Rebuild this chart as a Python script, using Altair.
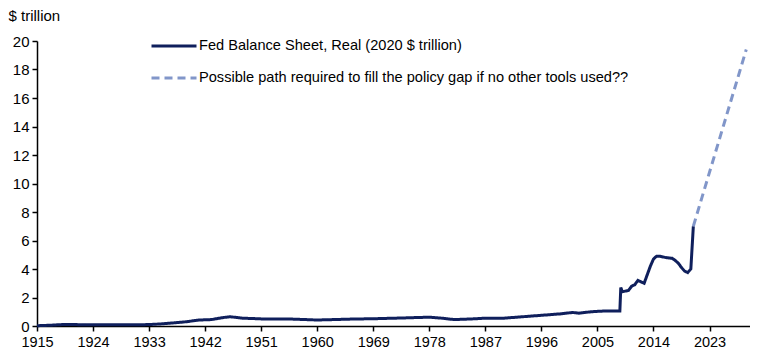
import altair as alt
import pandas as pd

# Fed balance sheet, real (2020 $ trillion)
fed_years = [1915, 1917, 1919, 1921, 1924, 1927, 1930, 1933, 1935, 1937, 1939, 1941,
             1943, 1945, 1946, 1948, 1951, 1955, 1960, 1965, 1970, 1975, 1978, 1980,
             1982, 1985, 1987, 1990, 1993, 1996, 1999, 2001, 2002, 2004, 2006, 2008.6,
             2008.75, 2009, 2010, 2010.5, 2011, 2011.5, 2012, 2012.5, 2013, 2013.5,
             2014, 2014.5, 2015, 2016, 2017, 2017.5, 2018, 2018.5, 2019, 2019.5,
             2020.0, 2020.4]
fed_values = [0.02, 0.05, 0.1, 0.1, 0.08, 0.08, 0.08, 0.1, 0.15, 0.22, 0.3, 0.42,
              0.45, 0.6, 0.65, 0.55, 0.5, 0.5, 0.42, 0.48, 0.52, 0.58, 0.62, 0.55,
              0.45, 0.5, 0.55, 0.55, 0.65, 0.75, 0.85, 0.95, 0.9, 1.0, 1.05, 1.05,
              2.7, 2.4, 2.5, 2.8, 2.9, 3.2, 3.1, 3.0, 3.6, 4.2,
              4.7, 4.9, 4.9, 4.8, 4.75, 4.6, 4.4, 4.1, 3.85, 3.75,
              4.0, 7.0]

# Possible path required to fill the policy gap
path_years = [2020.4, 2028.9]
path_values = [7.0, 19.4]

series_names = ["Fed Balance Sheet, Real (2020 $ trillion)",
                "Possible path required to fill the policy gap if no other tools used??"]
x_ticks = [1915, 1924, 1933, 1942, 1951, 1960, 1969, 1978, 1987, 1996, 2005, 2014, 2023]
y_ticks = list(range(0, 21, 2))

df = pd.concat([
    pd.DataFrame({"year": fed_years, "value": fed_values, "series": series_names[0], "order": range(len(fed_years))}),
    pd.DataFrame({"year": path_years, "value": path_values, "series": series_names[1], "order": range(len(path_years))}),
])

legend_cfg = dict(title=None, orient="none", legendX=113, legendY=-19,
                  symbolType="stroke", symbolSize=2025, symbolStrokeWidth=3,
                  labelFontSize=14.6, labelFont="Liberation Sans", labelColor="black",
                  rowPadding=1, labelOffset=1, labelLimit=0)

axis_common = dict(grid=False, domainColor="black", domainWidth=1.5, tickColor="black",
                   tickWidth=1.5, tickSize=5, labelColor="black", labelFont="Liberation Sans")

chart = alt.Chart(df).mark_line(strokeWidth=3).encode(
    x=alt.X("year:Q", scale=alt.Scale(domain=[1915, 2029.5], nice=False, zero=False),
            axis=alt.Axis(values=x_ticks, format="d", title=None, labelPadding=4,
                          labelFontSize=14.5, labelFlush=False, **axis_common)),
    y=alt.Y("value:Q", scale=alt.Scale(domain=[0, 20], nice=False),
            axis=alt.Axis(values=y_ticks, title="$ trillion", titleAngle=0, titleAlign="left",
                          titleBaseline="alphabetic", titleX=-29, titleY=-21, titleFontSize=15,
                          titleFontWeight="normal", titleFont="Liberation Sans", titleColor="black",
                          labelPadding=3, labelFontSize=15, **axis_common)),
    color=alt.Color("series:N", scale=alt.Scale(domain=series_names, range=["#0f1f5c", "#8196c9"]),
                    legend=alt.Legend(**legend_cfg)),
    strokeDash=alt.StrokeDash("series:N", scale=alt.Scale(domain=series_names, range=[[1, 0], [8, 5]]),
                              legend=alt.Legend(**legend_cfg)),
    order="order:Q",
).properties(
    width=713, height=285,
    autosize=alt.AutoSizeParams(type="none"),
    padding={"left": 29, "top": 33, "right": 0, "bottom": 26},
).configure_view(stroke=None)

chart.save("out.html", embed_options={"renderer": "svg", "actions": False})
